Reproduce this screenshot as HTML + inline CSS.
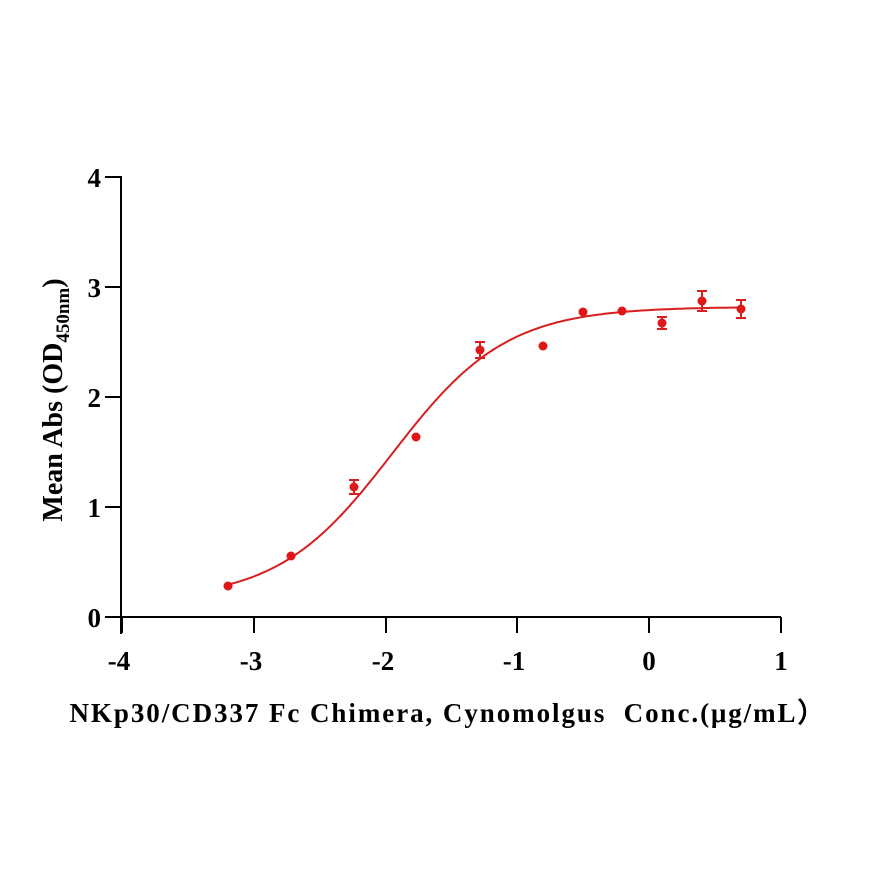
<!DOCTYPE html>
<html><head><style>body{margin:0;background:#fff}svg{display:block}text{font-family:"Liberation Serif",serif;font-weight:bold;fill:#000}</style></head>
<body>
<svg id="s" width="873" height="873" viewBox="0 0 873 873">
<g stroke="#000" stroke-width="2" fill="none">
<line x1="121" y1="176" x2="121" y2="634"/>
<line x1="105" y1="617" x2="781" y2="617"/>
<line x1="105" y1="177" x2="121" y2="177"/>
<line x1="105" y1="287" x2="121" y2="287"/>
<line x1="105" y1="397" x2="121" y2="397"/>
<line x1="105" y1="507" x2="121" y2="507"/>
<line x1="122" y1="617" x2="122" y2="633"/>
<line x1="254" y1="617" x2="254" y2="633"/>
<line x1="386" y1="617" x2="386" y2="633"/>
<line x1="517" y1="617" x2="517" y2="633"/>
<line x1="649" y1="617" x2="649" y2="633"/>
<line x1="781" y1="617" x2="781" y2="633"/>
</g>
<g font-size="27" text-anchor="end">
<text x="101" y="187">4</text><text x="101" y="297">3</text><text x="101" y="407">2</text><text x="101" y="517">1</text><text x="101" y="627">0</text>
</g>
<g font-size="27" text-anchor="middle">
<text x="119" y="670">-4</text><text x="251" y="670">-3</text><text x="383" y="670">-2</text><text x="514" y="670">-1</text><text x="649" y="670">0</text><text x="781" y="670">1</text>
</g>
<text x="447" y="722" font-size="27" text-anchor="middle" textLength="755" lengthAdjust="spacing">NKp30/CD337 Fc Chimera, Cynomolgus&#160; Conc.(μg/mL）</text>
<text transform="translate(62,400) rotate(-90)" font-size="28" text-anchor="middle">Mean Abs (OD<tspan font-size="19" dy="7">450nm</tspan><tspan dy="-7">)</tspan></text>
<g id="d"></g>
</svg>
<script>
var X=x=>122+(x+4)*131.8, Y=y=>617-y*110;
var f=x=>0.15+2.67/(1+Math.pow(10,(-1.95-x)*1.0));
var p="";for(var x=-3.2;x<=0.701;x+=0.02){p+=(p?"L":"M")+X(x).toFixed(1)+","+Y(f(x)).toFixed(1);}
var pts=[[228,586,0],[291,556,0],[354,487,7],[416,437,0],[480,350,8],[543,346,0],[583,312,0],[622,311,0],[662,323,6],[702,301,10],[741,309,9]];
var h='<path d="'+p+'" stroke="#d81e1e" stroke-width="2" fill="none"/>';
pts.forEach(q=>{h+='<circle cx="'+q[0]+'" cy="'+q[1]+'" r="4.5" fill="#e01515"/>';if(q[2])h+='<path d="M'+q[0]+','+(q[1]-q[2])+'V'+(q[1]+q[2])+'M'+(q[0]-5)+','+(q[1]-q[2])+'h10M'+(q[0]-5)+','+(q[1]+q[2])+'h10" stroke="#d81e1e" stroke-width="2"/>';});
document.getElementById("d").innerHTML=h;
</script>
</body></html>
